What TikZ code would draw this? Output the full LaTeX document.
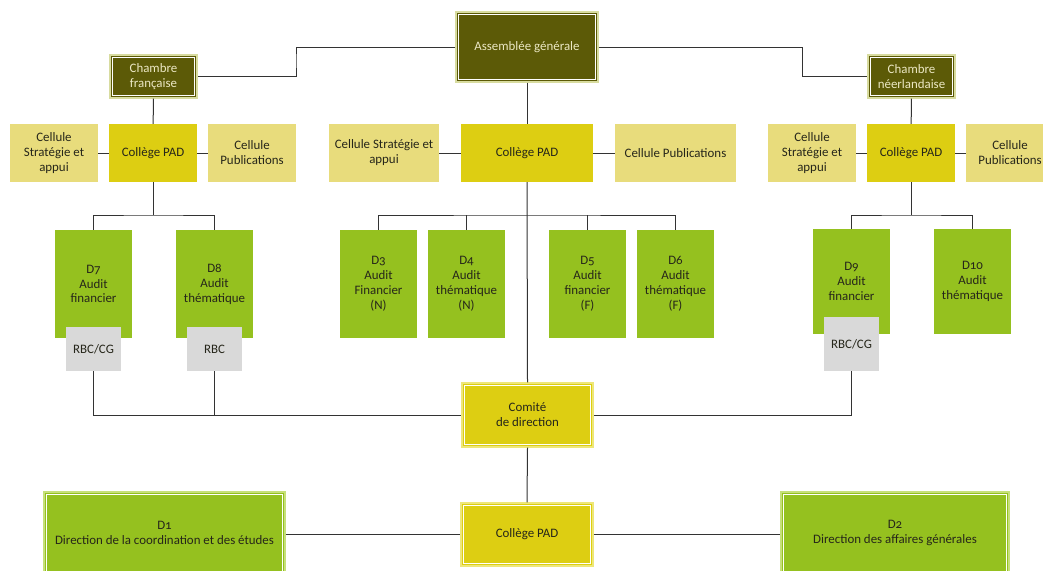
\documentclass[tikz,border=0pt]{standalone}
\usepackage{fontspec}
\setmainfont[Numbers=OldStyle]{Carlito}
\definecolor{olive}{HTML}{5C5A07}
\definecolor{olivetxt}{HTML}{ECE8C4}
\definecolor{oliveedge}{HTML}{D8DCA0}
\definecolor{pad}{HTML}{DDCE12}
\definecolor{padedge}{HTML}{EEE77A}
\definecolor{cell}{HTML}{E8DC7C}
\definecolor{dgreen}{HTML}{95C11F}
\definecolor{dedge}{HTML}{C6E07A}
\definecolor{rbcgray}{HTML}{D9D9D9}
\definecolor{txt}{HTML}{26261A}
\definecolor{conn}{HTML}{333333}
\tikzset{
  base/.style={rectangle, inner sep=1pt, align=center, text=txt,
    font=\fontsize{12.9}{14.9}\selectfont},
  framed/.style={base, draw=#1, line width=1.2pt,
    path picture={\draw[white,line width=0.9pt]
      ([shift={(2.4,2.4)}]path picture bounding box.north west) rectangle
      ([shift={(-2.4,-2.4)}]path picture bounding box.south east);}},
  darkbox/.style={framed=oliveedge, fill=olive, text=olivetxt},
  padbox/.style={base, fill=pad},
  padframed/.style={framed=padedge, fill=pad},
  cellbox/.style={base, fill=cell},
  dbox/.style={base, fill=dgreen},
  dframed/.style={framed=dedge, fill=dgreen},
  rbcbox/.style={base, fill=rbcgray},
  link/.style={draw=conn, line width=1pt},
}
\begin{document}
\begin{tikzpicture}[x=1pt,y=-1pt]
\useasboundingbox (0,0) rectangle (1043,570);
\clip (0,0) rectangle (1043,570);
% top
\node[darkbox, minimum width=142pt, minimum height=70pt] (ag) at (527,47) {Assemblée générale};
\node[darkbox, minimum width=87pt, minimum height=43pt] (chfr) at (153.5,76.5) {Chambre\\française};
\node[darkbox, minimum width=87pt, minimum height=43pt] (chnl) at (911.5,76.5) {Chambre\\néerlandaise};
% left cluster
\node[cellbox, minimum width=88pt, minimum height=58pt] (csfr) at (54,153) {Cellule\\Stratégie et\\appui};
\node[padbox, minimum width=88pt, minimum height=58pt] (colfr) at (153,153) {Collège PAD};
\node[cellbox, minimum width=88pt, minimum height=58pt] (cpfr) at (252,153) {Cellule\\Publications};
% center cluster
\node[cellbox, minimum width=110pt, minimum height=58pt] (csc) at (384,153) {Cellule Stratégie et\\appui};
\node[padbox, minimum width=132pt, minimum height=58pt] (colc) at (527,153) {Collège PAD};
\node[cellbox, minimum width=121pt, minimum height=58pt] (cpc) at (675.5,153) {Cellule Publications};
% right cluster
\node[cellbox, minimum width=88pt, minimum height=58pt] (csnl) at (812,153) {Cellule\\Stratégie et\\appui};
\node[padbox, minimum width=88pt, minimum height=58pt] (colnl) at (911,153) {Collège PAD};
\node[cellbox, minimum width=88pt, minimum height=58pt] (cpnl) at (1010,153) {Cellule\\Publications};
% left directions
\node[dbox, minimum width=77pt, minimum height=108pt] (d7) at (93.5,284) {D7\\Audit\\financier};
\node[dbox, minimum width=77pt, minimum height=108pt] (d8) at (214.5,284) {D8\\Audit\\thématique};
\node[rbcbox, minimum width=55pt, minimum height=44pt] (rbc7) at (93.5,349) {RBC/CG};
\node[rbcbox, minimum width=55pt, minimum height=44pt] (rbc8) at (214.5,349) {RBC};
% center directions
\node[dbox, minimum width=77pt, minimum height=108pt] (d3) at (378.5,284) {D3\\Audit\\Financier\\(N)};
\node[dbox, minimum width=77pt, minimum height=108pt] (d4) at (466.5,284) {D4\\Audit\\thématique\\(N)};
\node[dbox, minimum width=77pt, minimum height=108pt] (d5) at (587.5,284) {D5\\Audit\\financier\\(F)};
\node[dbox, minimum width=77pt, minimum height=108pt] (d6) at (675.5,284) {D6\\Audit\\thématique\\(F)};
% right directions
\node[dbox, minimum width=77pt, minimum height=105pt] (d9) at (851.5,281.5) {D9\\Audit\\financier};
\node[dbox, minimum width=77pt, minimum height=105pt] (d10) at (972.5,281.5) {D10\\Audit\\thématique};
\node[rbcbox, minimum width=55pt, minimum height=54pt] (rbc9) at (851.5,344) {RBC/CG};
% comité
\node[padframed, minimum width=131pt, minimum height=64pt] (com) at (527.5,415) {Comité\\de direction};
% bottom
\node[padframed, minimum width=132pt, minimum height=63pt] (colb) at (527,534.5) {Collège PAD};
\node[dframed, minimum width=241pt, minimum height=82pt] (d1) at (164.5,533) {D1\\Direction de la coordination et des études};
\node[dframed, minimum width=228pt, minimum height=82pt] (d2) at (895,533) {D2\\Direction des affaires générales};
% connectors
\coordinate (jl) at (296,60);
\coordinate (jr) at (802,60);
\draw[link] (ag.west) -| (jl) |- (chfr.east);
\draw[link] (ag.east) -| (jr) |- (chnl.west);
\draw[link] (chfr) -- (colfr);
\draw[link] (chnl) -- (colnl);
\draw[link] (ag) -- (colc);
\draw[link] (colfr.west) -- (csfr.east);
\draw[link] (colfr.east) -- (cpfr.west);
\draw[link] (colc.west) -- (csc.east);
\draw[link] (colc.east) -- (cpc.west);
\draw[link] (colnl.west) -- (csnl.east);
\draw[link] (colnl.east) -- (cpnl.west);
% buses
\coordinate (busfr) at (153,215);
\coordinate (busc) at (527,215);
\coordinate (busnl) at (911,215);
\draw[link] (colfr.south) -- (busfr);
\draw[link] (d7.north) |- (busfr) -| (d8.north);
\draw[link] (colc.south) -- (com.north);
\draw[link] (d3.north) |- (busc) -| (d6.north);
\draw[link] (d4.north) -- (d4.north |- busc);
\draw[link] (d5.north) -- (d5.north |- busc);
\draw[link] (colnl.south) -- (busnl);
\draw[link] (d9.north) |- (busnl) -| (d10.north);
% to comité
\draw[link] (rbc7.south) |- (com.west);
\draw[link] (rbc8.south) -- (rbc8.south |- com.west);
\draw[link] (rbc9.south) |- (com.east);
% bottom
\draw[link] (com.south) -- (colb.north);
\draw[link] (d1.east |- colb.west) -- (colb.west);
\draw[link] (colb.east) -- (d2.west |- colb.east);
\end{tikzpicture}
\end{document}
